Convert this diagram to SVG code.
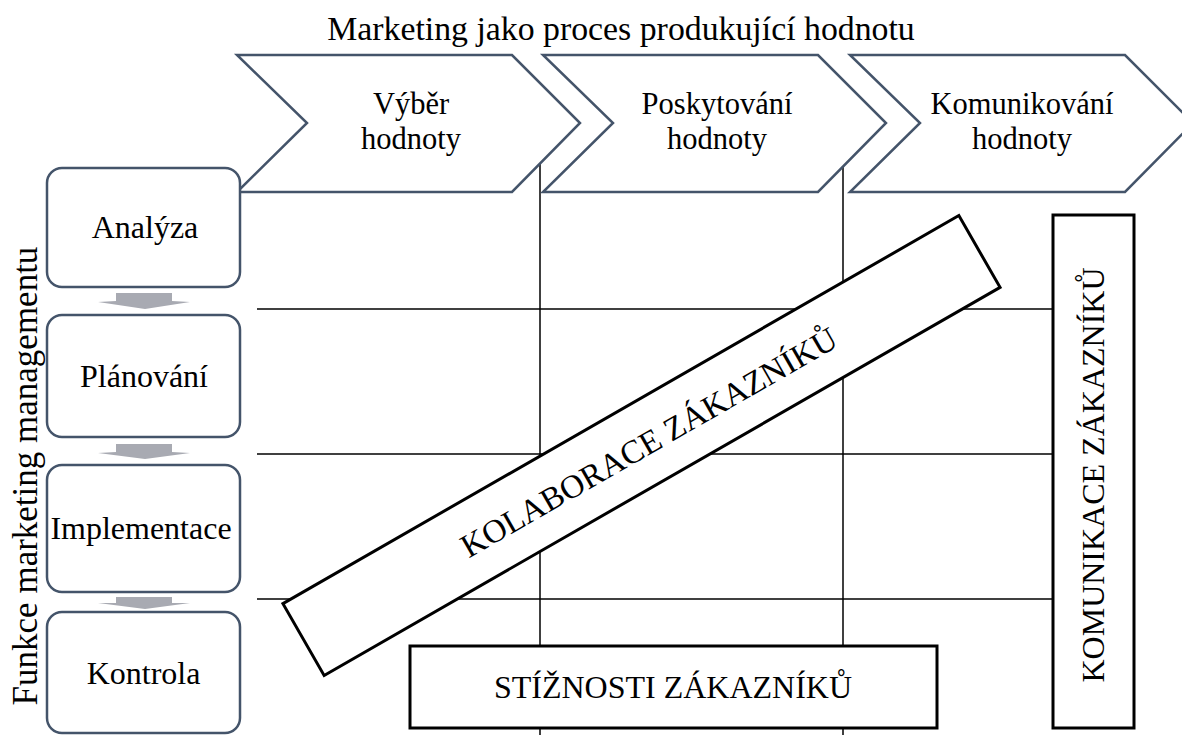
<svg xmlns="http://www.w3.org/2000/svg" width="1182" height="735" viewBox="0 0 1182 735">
<style>
  text { font-family: "Liberation Serif", "Times New Roman", serif; fill: #000; }
  .t { font-size: 30.5px; text-anchor: middle; }
  .b { font-size: 32px; text-anchor: middle; }
  .cap { font-size: 32px; text-anchor: middle; }
  .chev { fill: #fff; stroke: #44546A; stroke-width: 2.5; stroke-linejoin: miter; }
  .rbox { fill: #fff; stroke: #44546A; stroke-width: 2.5; }
  .box { fill: #fff; stroke: #000; stroke-width: 3; }
  .grid { stroke: #000; stroke-width: 1.5; fill: none; }
  .arr { fill: #A8AAB2; }
</style>
<rect width="1182" height="735" fill="#fff"/>
<text id="title" x="621" y="40" style="font-size:33.8px" text-anchor="middle">Marketing jako proces produkující hodnotu</text>
<text id="side-label" transform="translate(37,476) rotate(-90)" style="font-size:35px" text-anchor="middle">Funkce marketing managementu</text>
<g id="connectors">
  <line class="grid" x1="540" y1="150" x2="540" y2="735"/>
  <line class="grid" x1="843" y1="150" x2="843" y2="735"/>
  <line class="grid" x1="257" y1="309" x2="1052" y2="309"/>
  <line class="grid" x1="257" y1="454" x2="1052" y2="454"/>
  <line class="grid" x1="257" y1="599" x2="1052" y2="599"/>
  <polygon class="arr" points="116,293 172,293 172,301 190,302 145,309 98,302 116,301"/>
  <polygon class="arr" points="116,444 172,444 172,452 190,453 145,459 98,453 116,452"/>
  <polygon class="arr" points="116,597 172,597 172,603 190,603 145,609 98,603 116,603"/>
</g>
<g id="chev-vyber">
  <path class="chev" d="M237,55 L512,55 L580,123 L512,192 L237,192 L307,123 Z"/>
  <text class="t" x="411" y="113.5">Výběr</text>
  <text class="t" x="411" y="149">hodnoty</text>
</g>
<g id="chev-poskytovani">
  <path class="chev" d="M543,55 L818,55 L886,123 L818,192 L543,192 L613,123 Z"/>
  <text class="t" x="717" y="113.5">Poskytování</text>
  <text class="t" x="717" y="149">hodnoty</text>
</g>
<g id="chev-komunikovani">
  <path class="chev" d="M850,55 L1125,55 L1193,123 L1125,192 L850,192 L920,123 Z"/>
  <text class="t" x="1022" y="113.5">Komunikování</text>
  <text class="t" x="1022" y="149">hodnoty</text>
</g>
<g id="box-analyza">
  <rect class="rbox" x="47" y="168" width="193" height="119" rx="15"/>
  <text class="b" x="145" y="238">Analýza</text>
</g>
<g id="box-planovani">
  <rect class="rbox" x="47" y="315" width="193" height="122" rx="15"/>
  <text class="b" x="144" y="387">Plánování</text>
</g>
<g id="box-implementace">
  <rect class="rbox" x="47" y="465" width="193" height="127" rx="15"/>
  <text class="b" x="141" y="539">Implementace</text>
</g>
<g id="box-kontrola">
  <rect class="rbox" x="47" y="612" width="193" height="121" rx="15"/>
  <text class="b" x="143.5" y="684">Kontrola</text>
</g>
<g id="kolaborace" transform="translate(641.5,445.5) rotate(-29.86)">
  <rect class="box" x="-389.7" y="-41.4" width="779.4" height="82.8"/>
  <text class="cap" style="font-size:33px" x="8" y="12">KOLABORACE ZÁKAZNÍKŮ</text>
</g>
<g id="stiznosti">
  <rect class="box" x="410" y="646" width="527" height="82"/>
  <text class="cap" x="673" y="698">STÍŽNOSTI ZÁKAZNÍKŮ</text>
</g>
<g id="komunikace">
  <rect class="box" x="1053" y="215" width="81" height="513"/>
  <text class="cap" transform="translate(1104,475) rotate(-90)" x="0" y="0">KOMUNIKACE ZÁKAZNÍKŮ</text>
</g>
</svg>
